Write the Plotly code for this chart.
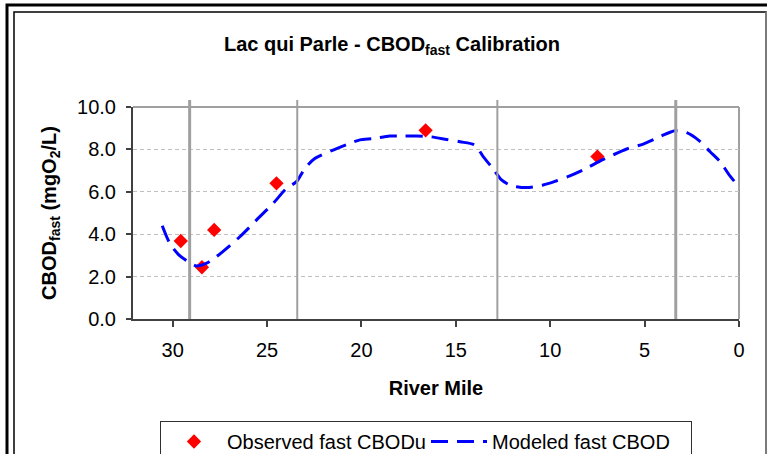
import plotly.graph_objects as go

# ---- data ----
obs_mile = [29.57, 28.45, 27.8, 24.5, 16.6, 7.5]
obs_cbod = [3.68, 2.44, 4.2, 6.4, 8.9, 7.66]

mod_mile = [30.55, 30.15, 29.70, 29.18, 28.74, 28.20, 27.68, 26.44, 25.38, 24.67,
            23.97, 23.44, 23.00, 22.47, 21.50, 20.60, 20.08, 19.37, 18.50, 17.80,
            17.08, 16.37, 15.49, 14.78, 13.99, 13.55, 13.02, 12.58, 12.14, 11.78,
            11.25, 10.37, 9.66, 8.96, 8.25, 7.37, 6.66, 5.95, 5.07, 4.19,
            3.39, 2.77, 2.15, 1.53, 1.00, 0.48, 0.00]
mod_cbod = [4.40, 3.57, 3.05, 2.70, 2.50, 2.63, 2.94, 3.88, 4.83, 5.46,
            6.16, 6.48, 7.10, 7.57, 7.97, 8.29, 8.45, 8.51, 8.63, 8.63,
            8.63, 8.60, 8.47, 8.36, 8.20, 7.66, 7.08, 6.56, 6.32, 6.24,
            6.20, 6.32, 6.52, 6.75, 7.03, 7.45, 7.74, 8.02, 8.25, 8.60,
            8.88, 8.79, 8.44, 7.89, 7.42, 6.75, 6.24]

reach_mile = [29.1, 23.4, 12.8, 3.35]
reach_width = [3, 2, 2, 3]

x_ticks = [30, 25, 20, 15, 10, 5, 0]
y_ticks = [0, 2, 4, 6, 8, 10]

# ---- layout geometry ----
W, H = 767, 454
L, R, T, B = 133, 28, 107, 135
PW, PH = W - L - R, H - T - B

def px(xp):
    return (xp - L) / PW

def py(yp):
    return (H - B - yp) / PH

FONT = "Liberation Sans, Arial, sans-serif"

fig = go.Figure()
fig.add_trace(go.Scatter(
    x=obs_mile, y=obs_cbod, mode="markers", name="Observed fast CBODu",
    marker=dict(symbol="diamond", size=11, color="#FF0000", line=dict(width=0)),
))
fig.add_trace(go.Scatter(
    x=mod_mile, y=mod_cbod, mode="lines", name="Modeled fast CBOD",
    line=dict(color="#0000FF", width=3, dash="17px,9px", shape="spline", smoothing=0.8),
))

shapes = []
for m, w in zip(reach_mile, reach_width):
    shapes.append(dict(type="line", xref="x", yref="paper", x0=m, x1=m, y0=0, y1=py(100),
                       line=dict(color="#a0a0a0", width=w), layer="above"))
# chart frames
shapes.append(dict(type="rect", xref="paper", yref="paper", x0=px(7), x1=px(790), y0=py(5), y1=py(480),
                   line=dict(color="black", width=3)))
shapes.append(dict(type="rect", xref="paper", yref="paper", x0=px(14), x1=px(766), y0=py(12), y1=py(480),
                   line=dict(color="black", width=1.5)))
shapes.append(dict(type="line", xref="paper", yref="paper", x0=px(766), x1=px(766), y0=py(12), y1=py(480),
                   line=dict(color="#909090", width=1.5)))
# plot border (top/right)
shapes.append(dict(type="line", xref="paper", yref="paper", x0=0, x1=1, y0=1, y1=1,
                   line=dict(color="#a0a0a0", width=2), layer="below"))
shapes.append(dict(type="line", xref="paper", yref="paper", x0=1, x1=1, y0=0, y1=1,
                   line=dict(color="#a0a0a0", width=2), layer="below"))

fig.update_layout(
    width=W, height=H,
    margin=dict(l=L, r=R, t=T, b=B, autoexpand=False),
    paper_bgcolor="white", plot_bgcolor="white",
    font=dict(family=FONT, size=20, color="black"),
    title=dict(text="<b>Lac qui Parle - CBOD<sub>fast</sub> Calibration</b>",
               x=392 / W, xanchor="center", y=1 - 44 / H, yanchor="middle",
               font=dict(size=20, family=FONT)),
    showlegend=True,
    legend=dict(orientation="h", x=px(160), xanchor="left", y=py(421), yanchor="top",
                bordercolor="#303030", borderwidth=1, bgcolor="white",
                font=dict(size=20, family=FONT), itemwidth=56,
                entrywidth=194, entrywidthmode="pixels",
                traceorder="normal"),
    shapes=shapes,
)
fig.update_xaxes(
    range=[32.1, 0], tickvals=x_ticks, ticktext=[str(v) for v in x_ticks],
    showgrid=False, zeroline=False,
    showline=True, linecolor="#404040", linewidth=2,
    ticks="outside", ticklen=6, tickwidth=1.5, tickcolor="#404040",
    ticklabelstandoff=6,
    title=dict(text="<b>River Mile</b>", standoff=21, font=dict(size=20, family=FONT)),
)
fig.update_yaxes(
    range=[0, 10], tickvals=y_ticks, ticktext=[f"{v:.1f}" for v in y_ticks],
    showgrid=True, gridcolor="#c0c0c0", griddash="4px,3px", gridwidth=1,
    zeroline=False,
    showline=True, linecolor="#404040", linewidth=2,
    ticks="outside", ticklen=5, tickwidth=1.5, tickcolor="#404040",
    ticklabelstandoff=6,
    title=dict(text="<b>CBOD<sub>fast</sub> (mgO<sub>2</sub>/L)</b>", standoff=15,
               font=dict(size=20, family=FONT)),
)

fig.write_html("out.html", config={"displayModeBar": False},
               post_script="document.body.style.margin='0';")
